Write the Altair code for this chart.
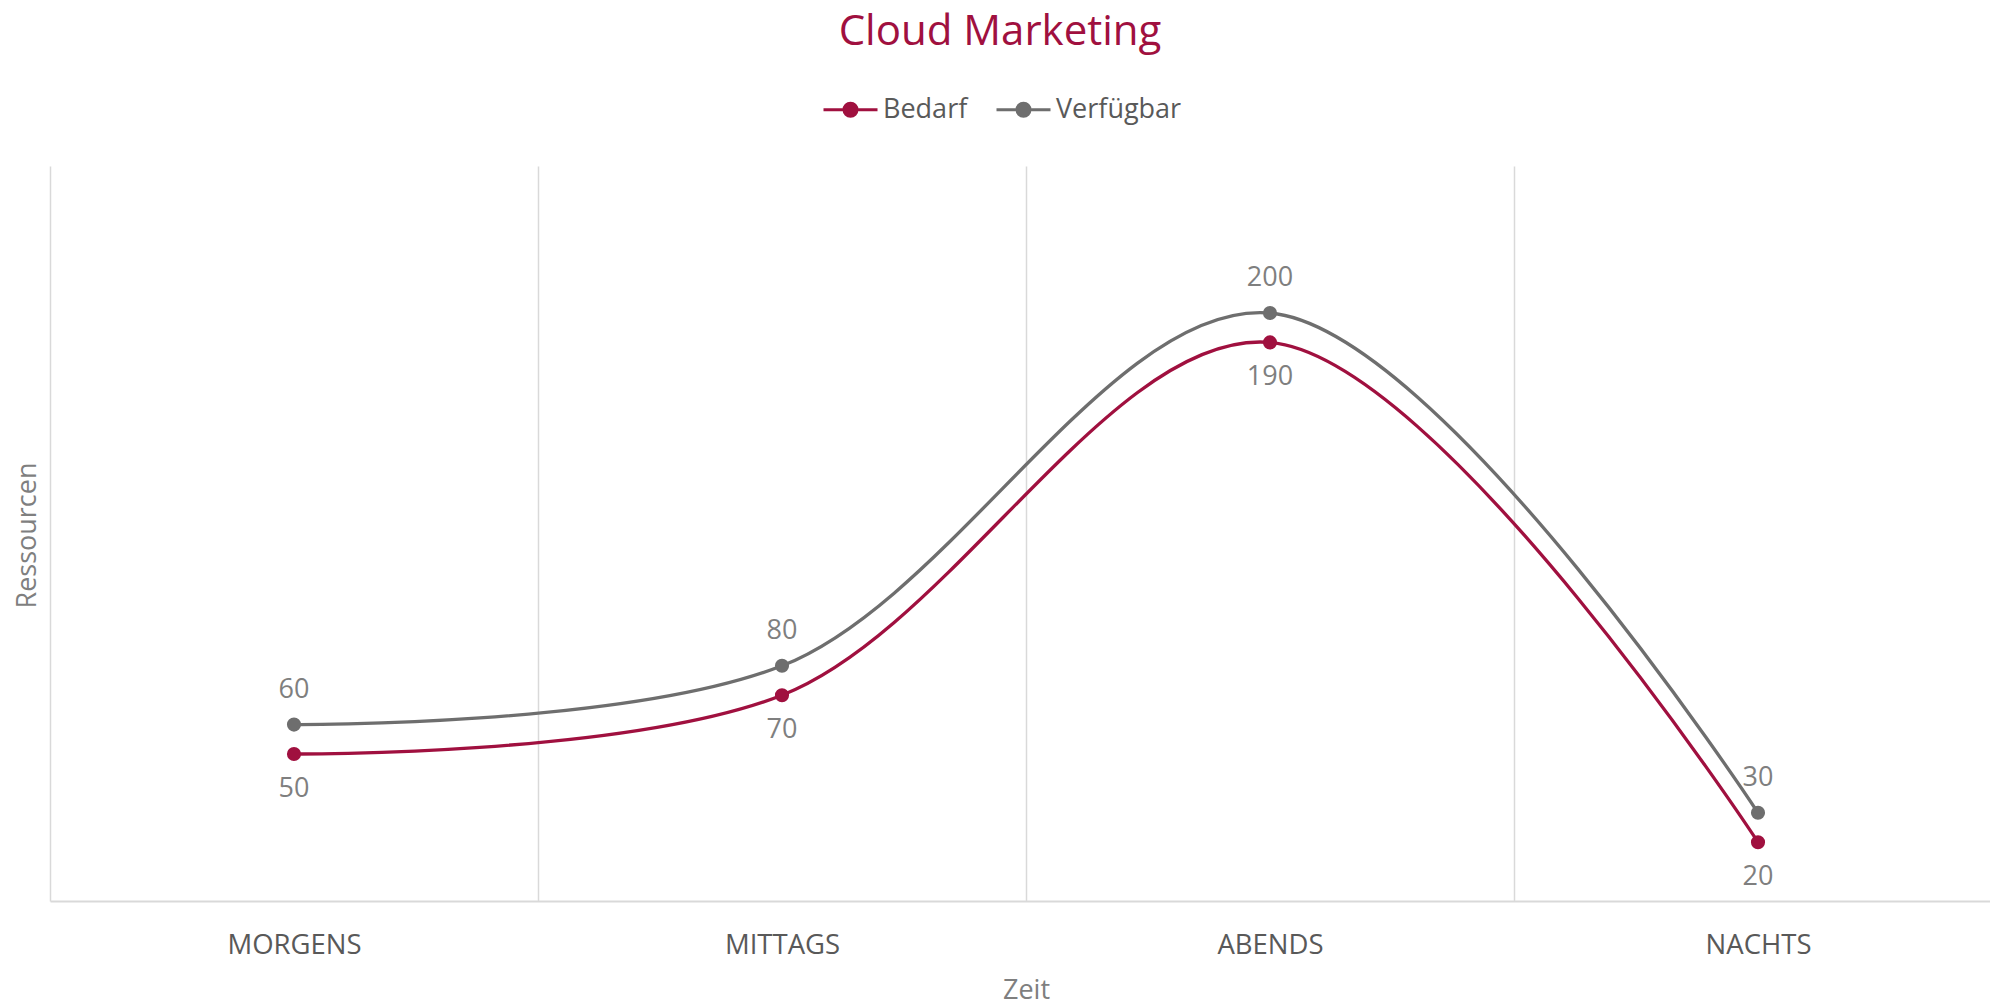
import altair as alt
import pandas as pd

categories = ["MORGENS", "MITTAGS", "ABENDS", "NACHTS"]
bedarf = [50, 70, 190, 20]
verfuegbar = [60, 80, 200, 30]
series = ["Bedarf", "Verfügbar"]
colors = ["#A0103F", "#6E6E6E"]

rows = []
for s, vals in zip(series, [bedarf, verfuegbar]):
    for c, v in zip(categories, vals):
        rows.append({"Zeit": c, "Serie": s, "Wert": v})
df = pd.DataFrame(rows)

FONT = "Open Sans"

# legend symbol: line with a filled dot (concentric stroked rings fill the dot)
sym = "M-1,0L1,0"
for r in [0.06, 0.12, 0.18, 0.24]:
    sym += f"M{-r},0A{r},{r},0,1,0,{r},0A{r},{r},0,1,0,{-r},0"

x = alt.X(
    "Zeit:N", sort=categories, bandPosition=0.5,
    scale=alt.Scale(type="band", paddingInner=0, paddingOuter=0, range=[0, 1952]),
    axis=alt.Axis(
        title="Zeit", tickBand="extent", grid=True, gridColor="#D9D9D9", gridWidth=1.5,
        domainColor="#D9D9D9", domainWidth=2, ticks=False, labelAngle=0,
        labelFont=FONT, labelFontSize=27.5, labelColor="#595959",
        labelPadding=44, labelBaseline="middle",
        titleFont=FONT, titleFontSize=27, titleColor="#7F7F7F", titleFontWeight="normal",
        titleX=976, titleY=89, titleBaseline="middle",
    ),
)
y = alt.Y(
    "Wert:Q",
    scale=alt.Scale(domain=[0, 250], nice=False, zero=True),
    axis=alt.Axis(
        title="Ressourcen", labels=False, ticks=False, domain=False, grid=False,
        titleFont=FONT, titleFontSize=27, titleColor="#7F7F7F", titleFontWeight="normal",
        titleX=-23, titleY=369, titleAngle=270, titleBaseline="middle", titleAlign="center",
    ),
)
legend = alt.Legend(
    title=None, orient="none", legendX=772, legendY=-85, direction="horizontal",
    symbolType=sym, symbolSize=2916, symbolStrokeWidth=3,
    labelFont=FONT, labelFontSize=27, labelColor="#595959", labelOffset=4,
    columnPadding=22, padding=0,
)
color = alt.Color("Serie:N", scale=alt.Scale(domain=series, range=colors), legend=legend)

base = alt.Chart(df)
lines = base.mark_line(interpolate="catmull-rom", strokeWidth=3.3).encode(x=x, y=y, color=color)
dots = base.mark_circle(size=200, opacity=1).encode(x=x, y=y, color=color)
lab_top = base.transform_filter(alt.datum.Serie == "Verfügbar").mark_text(
    font=FONT, fontSize=27, color="#7F7F7F", dy=-35
).encode(x=x, y=y, text="Wert:Q")
lab_bot = base.transform_filter(alt.datum.Serie == "Bedarf").mark_text(
    font=FONT, fontSize=27, color="#7F7F7F", dy=35
).encode(x=x, y=y, text="Wert:Q")

chart = alt.layer(lines, dots, lab_top, lab_bot).properties(
    width=1940, height=735,
    title=alt.Title("Cloud Marketing", font=FONT, fontSize=42, fontWeight="normal",
                    color="#A0103F", anchor="middle", dx=-20, offset=27),
    autosize=alt.AutoSizeParams(type="none"),
    padding={"left": 42, "top": 158, "right": 0, "bottom": 108},
).configure(font=FONT).configure_view(stroke=None)

chart.save("out.html", embed_options={"renderer": "svg", "actions": False})
